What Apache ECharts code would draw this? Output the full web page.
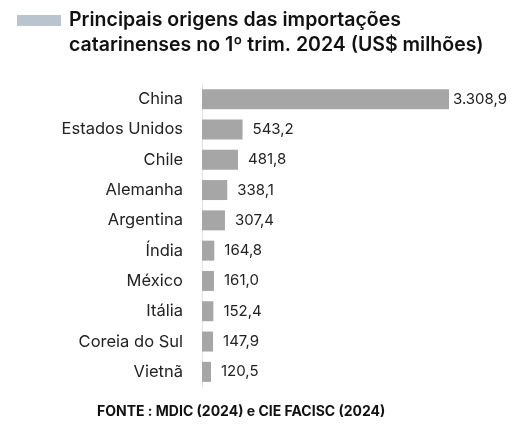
<!DOCTYPE html>
<html lang="pt">
<head>
<meta charset="UTF-8">
<title>Importações</title>
<script src="https://cdn.jsdelivr.net/npm/echarts@6/dist/echarts.min.js"></script>
<style>
html,body{margin:0;padding:0;background:#fff;}
#chart{width:512px;height:433px;}
</style>
</head>
<body>
<div id="chart"></div>
<script>
// dados
var paises = ['China','Estados Unidos','Chile','Alemanha','Argentina','Índia','México','Itália','Coreia do Sul','Vietnã'];
var valores = [3308.9, 543.2, 481.8, 338.1, 307.4, 164.8, 161.0, 152.4, 147.9, 120.5];

var fonte = 'Inter, "Open Sans", sans-serif';
function fmt(v){
    var s = v.toFixed(1).split('.');
    return s[0].replace(/\B(?=(\d{3})+(?!\d))/g, '.') + ',' + s[1];
}

var chart = echarts.init(document.getElementById('chart'));
chart.setOption({
    animation:false,
    textStyle:{fontFamily:fonte},
    graphic:[
        {type:'rect', shape:{x:17,y:15,width:44,height:11}, style:{fill:'#b9c4cf'}},
        {type:'text', left:69, top:8, style:{text:'Principais origens das importações\ncatarinenses no 1º trim. 2024 (US$ milhões)', fill:'#111', font:'600 19.5px '+fonte, lineHeight:25}},
        {type:'text', left:97, top:405, style:{text:'FONTE : MDIC (2024) e CIE FACISC (2024)', fill:'#111', font:'bold 14px '+fonte}}
    ],
    grid:{left:202, right:63, top:84, bottom:46},
    xAxis:{type:'value', min:0, max:3308.9, show:false},
    yAxis:{
        type:'category', inverse:true, data:paises,
        axisLine:{show:true, lineStyle:{color:'#e3e3e3'}},
        axisTick:{show:false},
        axisLabel:{color:'#222', fontSize:16.5, margin:19}
    },
    series:[{
        type:'bar', barWidth:20,
        data:valores.map(function(v,i){
            return {value:v, label:{distance: i===0 ? 4 : 10}};
        }),
        itemStyle:{color:'#a6a6a6'},
        label:{show:true, position:'right', color:'#222', fontSize:15, formatter:function(p){return fmt(p.value);}}
    }]
});
</script>
</body>
</html>
